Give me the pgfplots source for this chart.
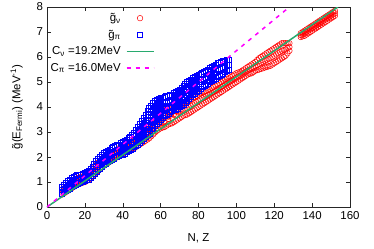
\documentclass[border=0pt]{standalone}
\usepackage{pgfplots}
\pgfplotsset{compat=1.18}
\usepackage{fontspec}
\setmainfont{Liberation Sans}
\definecolor{lgreen}{RGB}{40,170,110}
\definecolor{lmag}{RGB}{255,0,255}
\definecolor{lred}{RGB}{255,0,0}
\definecolor{lblue}{RGB}{0,0,255}
\pgfplotsset{
  markleg/.style={legend image code/.code={\draw[mark repeat=2,mark phase=2,##1] plot coordinates {(0bp,0bp) (13.5bp,0bp) (27bp,0bp)};}},
  greenleg/.style={legend image code/.code={\draw[draw=lgreen, line width=1.7bp] (0bp,0bp) -- (27bp,0bp);}},
  magleg/.style={legend image code/.code={\draw[draw=lmag, line width=1.5bp, dash pattern=on 4bp off 5bp] (0bp,0bp) -- (27bp,0bp);}},
}
\begin{document}
\fontsize{11.5}{13}\selectfont
\begin{tikzpicture}
\begin{axis}[
  name=ax,
  clip marker paths=true,
  scale only axis, width=303bp, height=200bp,
  xmin=0, xmax=160, ymin=0, ymax=8,
  xtick={0,20,...,160}, ytick={0,1,...,8},
  tick align=inside, major tick length=4bp,
  xtick pos=both, ytick pos=both,
  /pgf/number format/assume math mode=true,
  axis line style={line width=0.6pt, black!85},
  every tick/.style={line width=0.5pt, black!85},
  xlabel={N, Z},
  ylabel={\~{g}(E\textsubscript{Fermi}) (MeV\textsuperscript{-1})},
  xlabel style={at={(axis description cs:0.5,-0.155)}, anchor=center},
  ylabel style={at={(axis description cs:-0.1,0.5)}, anchor=center},
  legend plot pos=right,
  legend cell align=right,
  legend style={at={(axis description cs:-0.005,0.99)}, anchor=north west,
    draw=none, fill=none, row sep=2.8bp, column sep=3bp},
]
\addplot[only marks, mark=o, mark size=2.8bp, color=lred, mark options={line width=0.5bp, color=lred}, markleg]
coordinates {
(8,0.5)(8,0.6)(8,0.7)
(10,0.6)(10,0.7)(10,0.8)
(12,0.7)(12,0.83)(12,0.95)
(14,0.8)(14,0.93)(14,1.05)
(16,0.9)(16,1.03)(16,1.15)
(18,0.95)(18,1.08)(18,1.2)
(20,1.0)(20,1.13)(20,1.25)
(22,1.1)(22,1.23)(22,1.35)
(24,1.25)(24,1.38)(24,1.5)
(26,1.4)(26,1.55)(26,1.7)
(28,1.5)(28,1.68)(28,1.85)
(30,1.65)(30,1.8)(30,1.95)
(32,1.75)(32,1.9)(32,2.05)
(34,1.85)(34,2.0)(34,2.15)
(36,1.95)(36,2.1)(36,2.25)
(38,2.05)(38,2.2)(38,2.35)
(40,2.15)(40,2.28)(40,2.4)
(42,2.2)(42,2.33)(42,2.45)
(44,2.3)(44,2.43)(44,2.55)
(46,2.35)(46,2.5)(46,2.65)
(48,2.45)(48,2.6)(48,2.75)
(50,2.55)(50,2.73)(50,2.9)
(52,2.65)(52,2.8)(52,2.95)(52,3.1)
(54,2.75)(54,2.93)(54,3.12)(54,3.3)
(56,2.9)(56,3.1)(56,3.3)(56,3.5)
(58,3.05)(58,3.25)(58,3.45)(58,3.65)
(60,3.15)(60,3.35)(60,3.55)(60,3.75)
(62,3.2)(62,3.42)(62,3.63)(62,3.85)
(64,3.3)(64,3.52)(64,3.73)(64,3.95)
(66,3.35)(66,3.57)(66,3.78)(66,4.0)
(68,3.45)(68,3.65)(68,3.85)(68,4.05)
(70,3.55)(70,3.83)(70,4.1)
(72,3.65)(72,3.9)(72,4.15)
(74,3.7)(74,3.95)(74,4.2)
(76,3.8)(76,4.05)(76,4.3)
(78,3.9)(78,4.15)(78,4.4)
(80,4.0)(80,4.25)(80,4.5)
(82,4.1)(82,4.35)(82,4.6)
(84,4.2)(84,4.43)(84,4.65)
(86,4.3)(86,4.5)(86,4.7)
(88,4.4)(88,4.6)(88,4.8)
(90,4.5)(90,4.7)(90,4.9)
(92,4.6)(92,4.8)(92,5.0)
(94,4.7)(94,4.9)(94,5.1)
(96,4.8)(96,4.98)(96,5.15)
(98,4.9)(98,5.08)(98,5.25)
(100,5.0)(100,5.18)(100,5.35)
(102,5.1)(102,5.25)(102,5.4)
(104,5.2)(104,5.35)(104,5.5)
(106,5.3)(106,5.45)(106,5.6)
(108,5.35)(108,5.53)(108,5.7)
(110,5.45)(110,5.63)(110,5.8)
(112,5.5)(112,5.73)(112,5.95)
(114,5.55)(114,5.8)(114,6.05)
(116,5.6)(116,5.88)(116,6.15)
(118,5.65)(118,5.95)(118,6.25)
(120,5.75)(120,6.05)(120,6.35)
(122,5.85)(122,6.15)(122,6.45)
(124,5.95)(124,6.25)(124,6.55)
(126,6.05)(126,6.3)(126,6.55)
(128,6.25)(128,6.4)(128,6.55)
(134,6.8)(134,6.88)(134,6.95)
(136,6.85)(136,6.95)(136,7.05)
(138,6.95)(138,7.05)(138,7.15)
(140,7.05)(140,7.15)(140,7.25)
(142,7.15)(142,7.25)(142,7.35)
(144,7.25)(144,7.35)(144,7.45)
(146,7.35)(146,7.45)(146,7.55)
(148,7.45)(148,7.55)(148,7.65)
(150,7.55)(150,7.65)(150,7.75)
(152,7.65)(152,7.75)(152,7.85)
(9,0.55)(9,0.65)(9,0.75)
(11,0.65)(11,0.77)(11,0.88)
(13,0.75)(13,0.88)(13,1.0)
(15,0.85)(15,0.98)(15,1.1)
(17,0.93)(17,1.05)(17,1.18)
(19,0.98)(19,1.1)(19,1.23)
(21,1.05)(21,1.18)(21,1.3)
(23,1.18)(23,1.3)(23,1.43)
(25,1.33)(25,1.47)(25,1.6)
(27,1.45)(27,1.62)(27,1.78)
(29,1.58)(29,1.74)(29,1.9)
(31,1.7)(31,1.85)(31,2.0)
(33,1.8)(33,1.95)(33,2.1)
(35,1.9)(35,2.05)(35,2.2)
(37,2.0)(37,2.15)(37,2.3)
(39,2.1)(39,2.24)(39,2.38)
(41,2.18)(41,2.3)(41,2.43)
(43,2.25)(43,2.38)(43,2.5)
(45,2.33)(45,2.47)(45,2.6)
(47,2.4)(47,2.55)(47,2.7)
(49,2.5)(49,2.67)(49,2.83)
(51,2.6)(51,2.8)(51,3.0)
(53,2.7)(53,2.95)(53,3.2)
(55,2.83)(55,3.1)(55,3.4)
(57,2.98)(57,3.28)(57,3.58)
(59,3.1)(59,3.4)(59,3.7)
(61,3.18)(61,3.49)(61,3.8)
(63,3.25)(63,3.58)(63,3.9)
(65,3.33)(65,3.65)(65,3.98)
(67,3.4)(67,3.71)(67,4.03)
(69,3.5)(69,3.79)(69,4.08)
(71,3.6)(71,3.87)(71,4.13)
(73,3.68)(73,3.93)(73,4.18)
(75,3.75)(75,4.0)(75,4.25)
(77,3.85)(77,4.1)(77,4.35)
(79,3.95)(79,4.2)(79,4.45)
(81,4.05)(81,4.3)(81,4.55)
(83,4.15)(83,4.39)(83,4.63)
(85,4.25)(85,4.47)(85,4.68)
(87,4.35)(87,4.55)(87,4.75)
(89,4.45)(89,4.65)(89,4.85)
(91,4.55)(91,4.75)(91,4.95)
(93,4.65)(93,4.85)(93,5.05)
(95,4.75)(95,4.94)(95,5.13)
(97,4.85)(97,5.03)(97,5.2)
(99,4.95)(99,5.13)(99,5.3)
(101,5.05)(101,5.22)(101,5.38)
(103,5.15)(103,5.3)(103,5.45)
(105,5.25)(105,5.4)(105,5.55)
(107,5.33)(107,5.49)(107,5.65)
(109,5.4)(109,5.58)(109,5.75)
(111,5.48)(111,5.68)(111,5.88)
(113,5.53)(113,5.77)(113,6.0)
(115,5.58)(115,5.84)(115,6.1)
(117,5.63)(117,5.92)(117,6.2)
(119,5.7)(119,6.0)(119,6.3)
(121,5.8)(121,6.1)(121,6.4)
(123,5.9)(123,6.2)(123,6.5)
(125,6.0)(125,6.28)(125,6.55)
(127,6.15)(127,6.35)(127,6.55)
(135,6.83)(135,6.92)(135,7.0)
(137,6.9)(137,7.0)(137,7.1)
(139,7.0)(139,7.1)(139,7.2)
(141,7.1)(141,7.2)(141,7.3)
(143,7.2)(143,7.3)(143,7.4)
(145,7.3)(145,7.4)(145,7.5)
(147,7.4)(147,7.5)(147,7.6)
(149,7.5)(149,7.6)(149,7.7)
(151,7.6)(151,7.7)(151,7.8)
};
\addlegendentry{\~{g}\textsubscript{ν}}
\addplot[only marks, mark=square, mark size=2.6bp, color=lblue, mark options={line width=0.5bp, color=lblue}, markleg]
coordinates {
(8,0.55)(8,0.68)(8,0.8)
(10,0.65)(10,0.8)(10,0.95)
(12,0.75)(12,0.93)(12,1.1)
(14,0.85)(14,1.03)(14,1.2)
(16,0.95)(16,1.12)(16,1.28)
(18,1.0)(18,1.15)(18,1.3)
(20,1.05)(20,1.2)(20,1.35)
(22,1.1)(22,1.28)(22,1.45)
(24,1.25)(24,1.43)(24,1.6)
(26,1.4)(26,1.63)(26,1.85)
(28,1.55)(28,1.78)(28,2.0)
(30,1.7)(30,1.93)(30,2.15)
(32,1.8)(32,2.03)(32,2.25)
(34,1.9)(34,2.13)(34,2.35)
(36,2.0)(36,2.23)(36,2.45)
(38,2.05)(38,2.28)(38,2.5)
(40,2.1)(40,2.35)(40,2.6)
(42,2.2)(42,2.45)(42,2.7)
(44,2.3)(44,2.55)(44,2.8)
(46,2.4)(46,2.68)(46,2.95)
(48,2.5)(48,2.68)(48,2.85)(48,3.03)(48,3.2)
(50,2.65)(50,2.85)(50,3.05)(50,3.25)(50,3.45)
(52,2.8)(52,3.03)(52,3.25)(52,3.48)(52,3.7)
(54,2.95)(54,3.2)(54,3.45)(54,3.7)(54,3.95)
(56,3.15)(56,3.4)(56,3.65)(56,3.9)(56,4.15)
(58,3.35)(58,3.6)(58,3.83)(58,4.07)(58,4.3)
(60,3.5)(60,3.7)(60,3.93)(60,4.15)(60,4.35)
(62,3.65)(62,3.85)(62,4.03)(62,4.22)(62,4.4)
(64,3.75)(64,3.98)(64,4.22)(64,4.45)
(66,3.85)(66,4.07)(66,4.28)(66,4.5)
(68,3.9)(68,4.13)(68,4.37)(68,4.6)
(70,4.0)(70,4.23)(70,4.47)(70,4.7)
(72,4.1)(72,4.35)(72,4.6)(72,4.85)
(74,4.25)(74,4.5)(74,4.75)(74,5.0)
(76,4.4)(76,4.63)(76,4.87)(76,5.1)
(78,4.55)(78,4.77)(78,4.98)(78,5.2)
(80,4.65)(80,4.87)(80,5.08)(80,5.3)
(82,4.8)(82,5.08)(82,5.35)
(84,4.9)(84,5.18)(84,5.45)
(86,5.0)(86,5.28)(86,5.55)
(88,5.1)(88,5.38)(88,5.65)
(90,5.2)(90,5.48)(90,5.75)
(92,5.3)(92,5.55)(92,5.8)
(94,5.4)(94,5.63)(94,5.85)
(96,5.5)(96,5.7)(96,5.9)
(9,0.6)(9,0.74)(9,0.88)
(11,0.7)(11,0.87)(11,1.03)
(13,0.8)(13,0.98)(13,1.15)
(15,0.9)(15,1.08)(15,1.24)
(17,0.98)(17,1.14)(17,1.29)
(19,1.03)(19,1.18)(19,1.33)
(21,1.08)(21,1.24)(21,1.4)
(23,1.18)(23,1.35)(23,1.53)
(25,1.33)(25,1.53)(25,1.73)
(27,1.48)(27,1.7)(27,1.93)
(29,1.63)(29,1.85)(29,2.08)
(31,1.75)(31,1.98)(31,2.2)
(33,1.85)(33,2.08)(33,2.3)
(35,1.95)(35,2.18)(35,2.4)
(37,2.03)(37,2.25)(37,2.48)
(39,2.08)(39,2.32)(39,2.55)
(41,2.15)(41,2.4)(41,2.65)
(43,2.25)(43,2.5)(43,2.75)
(45,2.35)(45,2.6)(45,2.88)
(47,2.45)(47,2.66)(47,2.86)(47,3.08)
(49,2.58)(49,2.77)(49,2.95)(49,3.14)(49,3.33)
(51,2.73)(51,2.94)(51,3.15)(51,3.36)(51,3.58)
(53,2.88)(53,3.11)(53,3.35)(53,3.59)(53,3.83)
(55,3.05)(55,3.3)(55,3.55)(55,3.8)(55,4.05)
(57,3.25)(57,3.5)(57,3.74)(57,3.98)(57,4.23)
(59,3.43)(59,3.65)(59,3.88)(59,4.1)(59,4.33)
(61,3.58)(61,3.78)(61,3.98)(61,4.18)(61,4.38)
(63,3.7)(63,3.93)(63,4.17)(63,4.43)
(65,3.8)(65,4.02)(65,4.25)(65,4.48)
(67,3.88)(67,4.1)(67,4.33)(67,4.55)
(69,3.95)(69,4.18)(69,4.42)(69,4.65)
(71,4.05)(71,4.29)(71,4.53)(71,4.78)
(73,4.18)(73,4.43)(73,4.68)(73,4.93)
(75,4.33)(75,4.57)(75,4.81)(75,5.05)
(77,4.48)(77,4.7)(77,4.93)(77,5.15)
(79,4.6)(79,4.82)(79,5.03)(79,5.25)
(81,4.73)(81,5.0)(81,5.33)
(83,4.85)(83,5.13)(83,5.4)
(85,4.95)(85,5.23)(85,5.5)
(87,5.05)(87,5.33)(87,5.6)
(89,5.15)(89,5.43)(89,5.7)
(91,5.25)(91,5.52)(91,5.78)
(93,5.35)(93,5.59)(93,5.83)
(95,5.45)(95,5.67)(95,5.88)
};
\addlegendentry{\~{g}\textsubscript{π}}
\addplot[color=lgreen, draw=lgreen, line width=1.5bp, greenleg]
coordinates {(0,0) (153.6,8)};
\addlegendentry{C\textsubscript{ν} =19.2MeV}
\addplot[color=lmag, draw=lmag, line width=1.5bp, dash pattern=on 4bp off 5bp, magleg]
coordinates {(0,0) (128,8)};
\addlegendentry{C\textsubscript{π} =16.0MeV}
\end{axis}
\pgfresetboundingbox
\path[use as bounding box] (ax.south west) ++(-47bp,-42bp) rectangle ++(374bp,249bp);
\end{tikzpicture}
\end{document}
